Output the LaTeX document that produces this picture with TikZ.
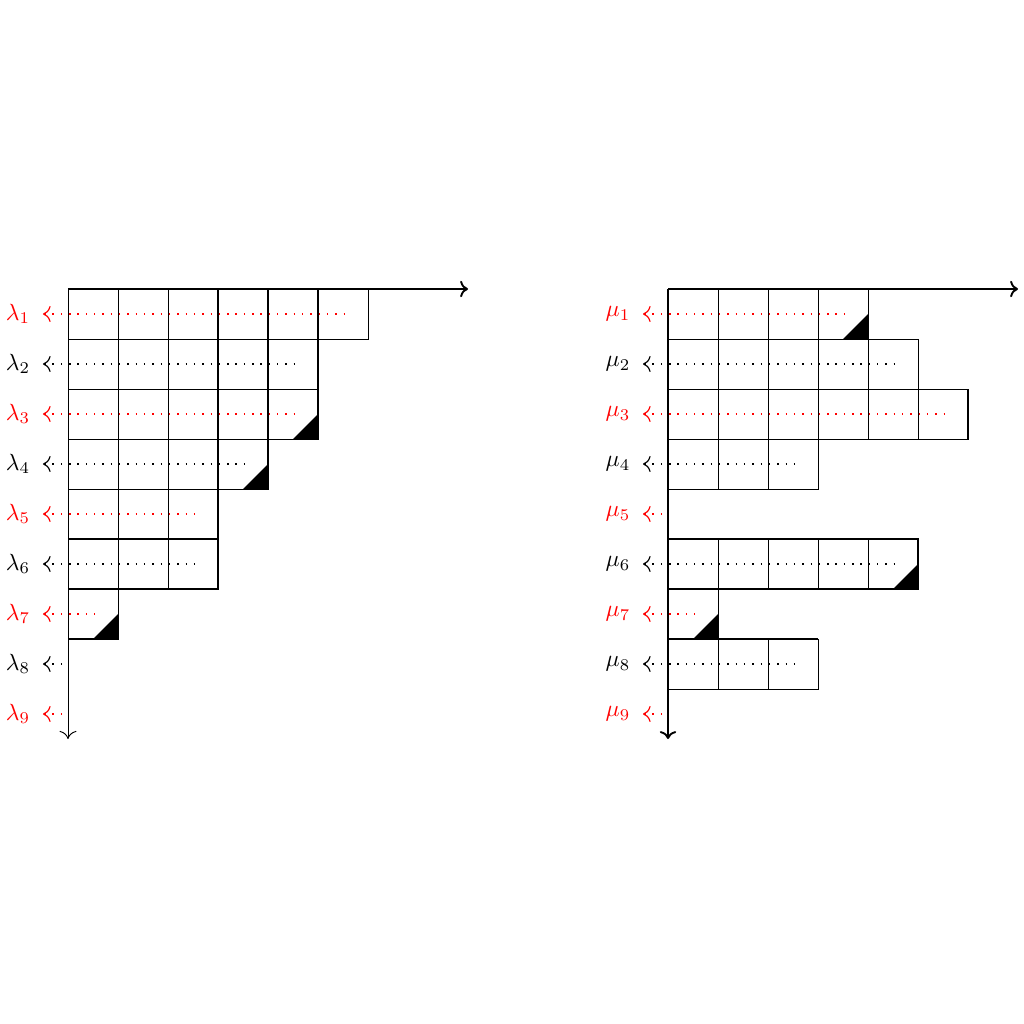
\documentclass[tikz,border=0pt]{standalone}
\usetikzlibrary{arrows.meta}
\begin{document}
\begin{tikzpicture}[x=0.75cm,y=0.75cm,
  bold/.style={line width=0.8pt},
  bigtip/.style={-{To[scale=1.4]}},
  dotline/.style={line width=0.5pt,dash pattern=on 0.6pt off 2.95pt,{To[scale=1.2]}-},
  corner/.style={fill=black}]
\useasboundingbox (-1.36,5.78) rectangle (19.12,-14.70);
% ---------- left diagram (lambda) ----------
\begin{scope}
\foreach \L [count=\i] in {6,5,5,4,3,3,1,0,0} {
  \ifnum\L>0
    \foreach \j in {1,...,\L} \draw (\j-1,1-\i) rectangle (\j,-\i);
  \fi
}
\foreach \L/\c [count=\i] in {6/red,5/black,5/red,4/black,3/red,3/black,1/red,0/black,0/red} {
  \node[text=\c] (la\i) at (-1,0.5-\i) {$\lambda_{\i}$};
  \coordinate (lat\i) at (-0.5,0.5-\i);
  \ifnum\L>0 \coordinate (lae\i) at (\L-0.45,0.5-\i); \else \coordinate (lae\i) at (0,0.5-\i); \fi
  \draw[\c,dotline] (lat\i) -- (lae\i);
}
\coordinate (lo) at (0,0);
\coordinate (lx) at (8,0);
\coordinate (ly) at (0,-9);
\draw[bold,->] (lo) -- (lx);
\draw[bigtip] (lo) -- (ly);
\draw[bold] (3,0) -- (3,-6) (4,0) -- (4,-4) (5,0) -- (5,-3)
            (0,-5) -- (3,-5) (0,-6) -- (3,-6) (0,-7) -- (1,-7);
\foreach \p in {(5,-3),(4,-4),(1,-7)}
  \fill[corner] \p ++(-0.5,0) -- ++(0.5,0) -- ++(0,0.5) -- cycle;
\end{scope}
% ---------- right diagram (mu) ----------
\begin{scope}[shift={(12,0)}]
\foreach \L [count=\i] in {4,5,6,3,0,5,1,3,0} {
  \ifnum\L>0
    \foreach \j in {1,...,\L} \draw (\j-1,1-\i) rectangle (\j,-\i);
  \fi
}
\foreach \L/\c [count=\i] in {4/red,5/black,6/red,3/black,0/red,5/black,1/red,3/black,0/red} {
  \node[text=\c] (mu\i) at (-1,0.5-\i) {$\mu_{\i}$};
  \coordinate (mut\i) at (-0.5,0.5-\i);
  \ifnum\L>0 \coordinate (mue\i) at (\L-0.45,0.5-\i); \else \coordinate (mue\i) at (0,0.5-\i); \fi
  \draw[\c,dotline] (mut\i) -- (mue\i);
}
\coordinate (mo) at (0,0);
\coordinate (mx) at (7,0);
\coordinate (my) at (0,-9);
\draw[bold,->] (mo) -- (mx);
\draw[bold,->] (mo) -- (my);
\draw[bold] (6,-2) -- (6,-3) (0,-5) rectangle (5,-6) (0,-7) -- (3,-7);
\foreach \p in {(4,-1),(5,-6),(1,-7)}
  \fill[corner] \p ++(-0.5,0) -- ++(0.5,0) -- ++(0,0.5) -- cycle;
\end{scope}
\end{tikzpicture}
\end{document}
